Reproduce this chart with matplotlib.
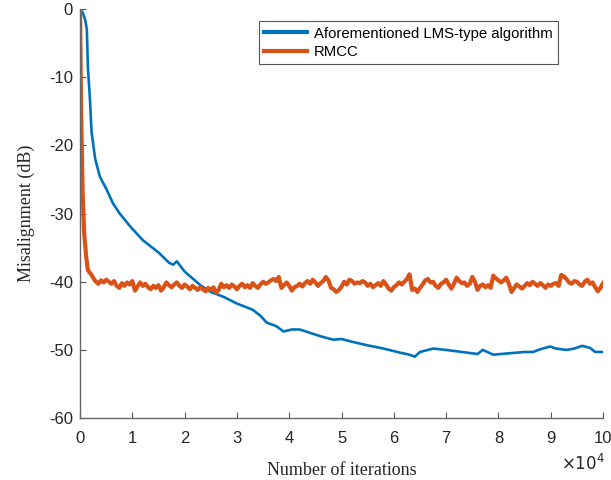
import matplotlib
matplotlib.use("Agg")
import matplotlib.pyplot as plt

# iterations in units of 1e4
lms_x = [0, 0.05, 0.1, 0.13, 0.15, 0.19, 0.22, 0.29, 0.38, 0.51, 0.63, 0.76, 0.95, 1.2, 1.5, 1.7,
         1.78, 1.85, 2.0, 2.3, 2.5, 2.74, 3.0, 3.3, 3.45, 3.57, 3.75, 3.89, 4.05, 4.2, 4.4, 4.6,
         4.84, 5.0, 5.2, 5.48, 5.8, 6.12, 6.3, 6.4, 6.5, 6.75, 7.0, 7.2, 7.4, 7.6, 7.7, 7.9, 8.2,
         8.5, 8.66, 8.8, 8.99, 9.1, 9.3, 9.45, 9.6, 9.75, 9.85, 10.0]
lms_y = [0, -0.5, -1.6, -3, -8.5, -13.3, -18, -22, -24.6, -26.5, -28.5, -30, -31.8, -33.9, -35.7, -37.2,
         -37.5, -37.0, -38.5, -40.5, -41.5, -42.2, -43.2, -44.1, -45, -46, -46.5, -47.3, -47.0, -47.0, -47.5, -48.0,
         -48.5, -48.4, -48.8, -49.3, -49.8, -50.4, -50.7, -51, -50.3, -49.8, -50.0, -50.2, -50.4, -50.6, -50.0, -50.7, -50.5,
         -50.3, -50.3, -49.9, -49.5, -49.8, -50.0, -49.8, -49.4, -49.7, -50.3, -50.3]

rmcc_x = [0, 0.02, 0.05, 0.08, 0.12, 0.15, 0.22, 0.28,
          0.35, 0.40, 0.45, 0.50, 0.55, 0.60, 0.65, 0.70, 0.75, 0.80,
          0.85, 0.90, 0.95, 1.00, 1.05, 1.10, 1.15, 1.20, 1.25, 1.30,
          1.35, 1.40, 1.45, 1.50, 1.55, 1.60, 1.65, 1.70, 1.75, 1.80,
          1.85, 1.90, 1.95, 2.00, 2.05, 2.10, 2.15, 2.20, 2.25, 2.30,
          2.35, 2.40, 2.45, 2.50, 2.55, 2.60, 2.65, 2.70, 2.75, 2.80,
          2.85, 2.90, 2.95, 3.00, 3.05, 3.10, 3.15, 3.20, 3.25, 3.30,
          3.35, 3.40, 3.45, 3.50, 3.55, 3.60, 3.65, 3.70, 3.75, 3.80,
          3.85, 3.90, 3.95, 4.00, 4.05, 4.10, 4.15, 4.20, 4.25, 4.30,
          4.35, 4.40, 4.45, 4.50, 4.55, 4.60, 4.65, 4.70, 4.75, 4.80,
          4.85, 4.90, 4.95, 5.00, 5.05, 5.10, 5.15, 5.20, 5.25, 5.30,
          5.35, 5.40, 5.45, 5.50, 5.55, 5.60, 5.65, 5.70, 5.75, 5.80,
          5.85, 5.90, 5.95, 6.00, 6.05, 6.10, 6.15, 6.20, 6.25, 6.30,
          6.35, 6.40, 6.45, 6.50, 6.55, 6.60, 6.65, 6.70, 6.75, 6.80,
          6.85, 6.90, 6.95, 7.00, 7.05, 7.10, 7.15, 7.20, 7.25, 7.30,
          7.35, 7.40, 7.45, 7.50, 7.55, 7.60, 7.65, 7.70, 7.75, 7.80,
          7.85, 7.90, 7.95, 8.00, 8.05, 8.10, 8.15, 8.20, 8.25, 8.30,
          8.35, 8.40, 8.45, 8.50, 8.55, 8.60, 8.65, 8.70, 8.75, 8.80,
          8.85, 8.90, 8.95, 9.00, 9.05, 9.10, 9.15, 9.20, 9.25, 9.30,
          9.35, 9.40, 9.45, 9.50, 9.55, 9.60, 9.65, 9.70, 9.75, 9.80,
          9.85, 9.90, 9.95, 10.00]
rmcc_y = [0, -15, -27, -33, -36.5, -38.3, -39.0, -39.8,
          -40.3, -39.8, -40.1, -39.7, -40.0, -40.3, -39.9, -40.6, -40.9, -40.2,
          -40.6, -40.1, -40.4, -39.9, -41.3, -40.7, -40.1, -40.6, -40.3, -40.8,
          -41.1, -40.6, -40.9, -40.5, -41.3, -40.8, -40.1, -40.5, -40.8, -40.4,
          -40.1, -40.6, -40.9, -40.4, -40.7, -41.1, -40.6, -40.9, -41.2, -40.8,
          -41.1, -41.4, -40.9, -41.2, -40.8, -41.6, -41.2, -40.3, -40.8, -40.5,
          -40.9, -40.4, -40.7, -41.1, -40.6, -40.3, -40.8, -40.5, -40.9, -40.2,
          -40.6, -40.9, -40.4, -40.0, -40.3, -40.1, -39.8, -39.6, -39.9, -39.3,
          -40.9, -40.5, -40.1, -40.6, -41.3, -40.8, -40.6, -40.3, -40.7, -40.2,
          -39.9, -40.3, -39.7, -40.1, -40.6, -40.2, -39.9, -39.3, -39.8, -40.9,
          -41.1, -41.5, -41.2, -40.7, -40.0, -40.4, -39.7, -39.9, -40.3, -40.1,
          -40.2, -39.9, -40.1, -40.6, -40.3, -40.8, -40.5, -40.2, -40.6, -39.9,
          -40.4, -41.0, -41.3, -40.8, -40.5, -40.1, -40.4, -40.0, -39.6, -38.9,
          -41.2, -41.0, -41.5, -40.9, -40.4, -39.8, -39.6, -40.1, -40.0, -40.6,
          -40.9, -40.3, -40.1, -39.7, -40.4, -41.0, -40.3, -39.4, -39.9, -40.2,
          -40.1, -40.6, -40.3, -39.3, -40.0, -41.2, -40.6, -40.4, -40.8, -40.5,
          -40.9, -39.1, -39.5, -39.8, -40.1, -39.8, -39.4, -40.3, -41.5, -40.9,
          -40.4, -40.7, -41.0, -40.6, -40.2, -40.5, -40.0, -40.3, -40.6, -40.2,
          -40.5, -40.9, -40.4, -40.6, -40.3, -40.2, -40.6, -39.0, -39.2, -39.6,
          -40.1, -40.3, -39.9, -40.0, -40.4, -40.6, -40.0, -39.7, -40.3, -40.1,
          -40.8, -41.4, -40.9, -40.2]

x_ticks = [0, 1, 2, 3, 4, 5, 6, 7, 8, 9, 10]
y_ticks = [0, -10, -20, -30, -40, -50, -60]

fig = plt.figure(figsize=(6.11, 4.8), dpi=100)
ax = fig.add_axes([0.131, 0.129, 0.856, 0.852])

ax.plot(lms_x, lms_y, color="#0072BD", lw=1.9, label="Aforementioned LMS-type algorithm")
ax.plot(rmcc_x, rmcc_y, color="#D95319", lw=3.0, label="RMCC")

ax.set_xlim(0, 10)
ax.set_ylim(-60, 0)
ax.set_xticks(x_ticks)
ax.set_yticks(y_ticks)
ax.set_xticklabels([str(t) for t in x_ticks], fontfamily="Liberation Sans", fontsize=12, color="#262626")
ax.set_yticklabels([str(t) for t in y_ticks], fontfamily="Liberation Sans", fontsize=12, color="#262626")
ax.tick_params(direction="in", length=4, color="#555555", width=0.8)
ax.tick_params(axis="x", pad=9)
ax.tick_params(axis="y", pad=5)
for s in ["top", "right"]:
    ax.spines[s].set_visible(False)
for s in ["left", "bottom"]:
    ax.spines[s].set_color("#666666")
    ax.spines[s].set_linewidth(1.0)

ax.set_xlabel("Number of iterations", fontfamily="Liberation Serif", fontsize=13, color="#262626", labelpad=12)
ax.set_ylabel("Misalignment (dB)", fontfamily="Liberation Serif", fontsize=13, color="#262626", labelpad=10)

fig.text(0.99, 0.012, r"$\times10^{4}$", fontsize=12, color="#262626", ha="right", va="bottom")

leg = ax.legend(loc="upper right", bbox_to_anchor=(0.914, 0.97), fancybox=False, edgecolor="#555555",
                framealpha=1, prop={"family": "Liberation Sans", "size": 10.7}, handlelength=2.9,
                borderaxespad=0, borderpad=0.35, labelspacing=0.3, handletextpad=0.45)
leg.get_frame().set_linewidth(0.8)
for h in leg.get_lines():
    h.set_linewidth(3.0)

fig.savefig("out.png", dpi=100)
